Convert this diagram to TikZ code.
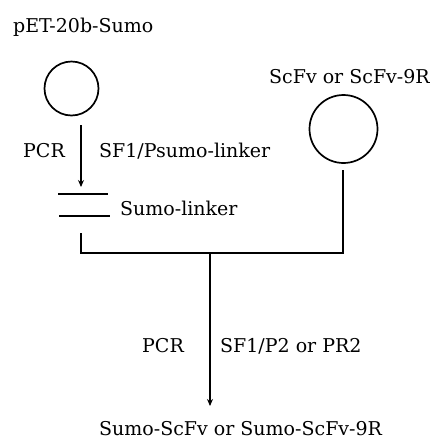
\documentclass[tikz,border=0pt]{standalone}
\usepackage{fontspec}
\setmainfont{DejaVu Serif}
\usetikzlibrary{arrows.meta}
\begin{document}
\begin{tikzpicture}[x=1pt,y=-1pt,
  lbl/.style={inner sep=0pt,anchor=base west,font=\fontsize{19}{21}\selectfont},
  ring/.style={circle,draw,line width=1.7pt,inner sep=0pt},
  ln/.style={line width=1.3pt},
  arr/.style={line width=1.1pt,-{Stealth[length=7pt,width=6pt]}}]
\useasboundingbox (0,0) rectangle (430,440);
\node[ring,minimum size=54pt] (c1) at (71.5,88.5) {};
\node[ring,minimum size=68pt] (c2) at (343.5,129) {};
\node[lbl] (t1) at (13,32.5) {pET-20b-Sumo};
\node[lbl] (t2) at (269,83) {ScFv or ScFv-9R};
\coordinate (a1s) at (81,125);
\coordinate (a1e) at (81,187);
\draw[arr] (a1s) -- (a1e);
\node[lbl] (pcr1) at (23,157) {PCR};
\node[lbl] (sf1) at (99,157) {SF1/Psumo-linker};
\coordinate (l1a) at (58,194); \coordinate (l1b) at (108,194);
\coordinate (l2a) at (59,216); \coordinate (l2b) at (110,216);
\draw[ln] (l1a) -- (l1b);
\draw[ln] (l2a) -- (l2b);
\node[lbl] (sl) at (120,215) {Sumo-linker};
\coordinate (bl) at (81,233);
\coordinate (blc) at (81,253);
\coordinate (brc) at (343,253);
\coordinate (br) at (343,170);
\draw[ln] (bl) -- (blc) -- (brc) -- (br);
\coordinate (a2s) at (210,253);
\coordinate (a2e) at (210,406);
\draw[arr] (a2s) -- (a2e);
\node[lbl] (pcr2) at (142,352) {PCR};
\node[lbl] (sf2) at (220,352) {SF1/P2 or PR2};
\node[lbl] (res) at (99,435) {Sumo-ScFv or Sumo-ScFv-9R};
\end{tikzpicture}
\end{document}
